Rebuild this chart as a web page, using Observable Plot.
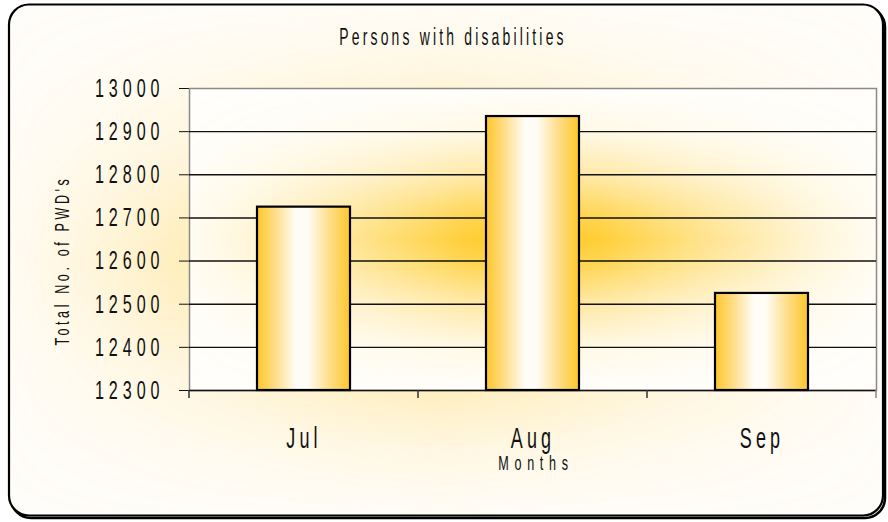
<!DOCTYPE html>
<html>
<head>
<meta charset="utf-8">
<script src="https://cdn.jsdelivr.net/npm/d3@7"></script>
<script src="https://cdn.jsdelivr.net/npm/@observablehq/plot@0.6"></script>
<style>
  html, body { margin: 0; padding: 0; background: #fff; }
  #chart { width: 888px; height: 522px; overflow: hidden; }
</style>
</head>
<body>
<div id="chart"></div>
<script>
// ---- data ----
const titleText = "Persons with disabilities";
const months = ["Jul", "Aug", "Sep"];
const values = [12725, 12935, 12525];
const yTicks = [12300, 12400, 12500, 12600, 12700, 12800, 12900, 13000];
const xLabel = "Months";
const yLabel = "Total No. of PWD's";

const data = months.map((m, i) => ({month: m, value: values[i]}));

const W = 888, H = 522;
const mL = 189, mR = 12, mT = 88, mB = 132;
const font = '"Liberation Sans", Arial, sans-serif';

const plot = Plot.plot({
  width: W,
  height: H,
  marginLeft: mL,
  marginRight: mR,
  marginTop: mT,
  marginBottom: mB,
  style: {background: "transparent", fontFamily: font, color: "#111"},
  x: {
    domain: months,
    paddingInner: 0.595,
    paddingOuter: 0.2975,
    tickSize: 0,
    tickPadding: 36,
    label: null
  },
  y: {
    domain: [yTicks[0], yTicks[yTicks.length - 1]],
    ticks: yTicks,
    tickFormat: d => String(d),
    tickSize: 10,
    tickPadding: 15,
    label: null,
    line: true
  },
  marks: [
    Plot.frame({fill: "url(#plotGrad)", stroke: "#8a8a8a", strokeWidth: 1.5}),
    Plot.ruleY(yTicks.slice(0, -1), {stroke: "#111", strokeWidth: 1.4}),
    Plot.barY(data, {x: "month", y1: () => yTicks[0], y2: "value", fill: "url(#barGrad)", stroke: "#000", strokeWidth: 2.2}),
    Plot.text([titleText], {frameAnchor: "top", dx: -80, dy: -51, lineAnchor: "middle", text: d => d, fill: "#111"}),
    Plot.text([xLabel], {frameAnchor: "bottom", dy: 73, dx: 3, lineAnchor: "middle", text: d => d, fill: "#111"}),
    Plot.text([yLabel], {frameAnchor: "left", dx: -127, dy: 21, rotate: -90, lineAnchor: "middle", textAnchor: "middle", text: d => d, fill: "#111"})
  ]
});

document.getElementById("chart").appendChild(plot);

// ---- decorations (gradients, chart-area box, category boundary ticks) ----
const svg = d3.select(plot);
const defs = svg.insert("defs", ":first-child");

// horizontal colour gradient + vertical mask -> star-shaped "from centre" glow
function glow(id, hStops, vStops) {
  const lg = defs.append("linearGradient").attr("id", id + "H")
    .attr("x1", 0).attr("x2", 1).attr("y1", 0).attr("y2", 0);
  hStops.forEach(([o, a]) =>
    lg.append("stop").attr("offset", o).attr("stop-color", "#ffc81f").attr("stop-opacity", a));
  const vg = defs.append("linearGradient").attr("id", id + "V")
    .attr("x1", 0).attr("x2", 0).attr("y1", 0).attr("y2", 1);
  vStops.forEach(([o, a]) => {
    const c = d3.rgb(255 * a, 255 * a, 255 * a).formatHex();
    vg.append("stop").attr("offset", o).attr("stop-color", c);
  });
  const mask = defs.append("mask").attr("id", id + "M").attr("maskContentUnits", "objectBoundingBox");
  mask.append("rect").attr("width", 1).attr("height", 1).attr("fill", `url(#${id}V)`);
}
const sym = s => s.concat(s.slice(0, -1).reverse().map(([o, a]) => [1 - o, a]));
glow("pg", sym([[0, 0.04], [0.1, 0.18], [0.25, 0.5], [0.4, 0.88], [0.5, 1]]),
           sym([[0, 0], [0.14, 0.1], [0.3, 0.45], [0.42, 0.85], [0.5, 1]]));
glow("cg", sym([[0, 0.05], [0.12, 0.25], [0.25, 0.5], [0.4, 0.85], [0.5, 1]]),
           sym([[0, 0.02], [0.12, 0.15], [0.28, 0.45], [0.42, 0.85], [0.5, 1]]));

// bar gradient
const bg = defs.append("linearGradient").attr("id", "barGrad").attr("x1", 0).attr("x2", 1).attr("y1", 0).attr("y2", 0);
[[0, "#fdc72a"], [0.18, "#fedb80"], [0.42, "#fffdf8"], [0.55, "#fffcf4"], [0.8, "#fedb80"], [1, "#fdc72a"]].forEach(([o, c]) =>
  bg.append("stop").attr("offset", o).attr("stop-color", c));

// plot area fill
const pg = defs.append("pattern").attr("id", "plotGrad").attr("patternUnits", "objectBoundingBox")
  .attr("patternContentUnits", "objectBoundingBox").attr("width", 1).attr("height", 1);
pg.append("rect").attr("width", 1).attr("height", 1).attr("fill", "#fffefb");
pg.append("rect").attr("width", 1).attr("height", 1).attr("fill", "url(#pgH)").attr("mask", "url(#pgM)");

// chart area fill
const cg = defs.append("pattern").attr("id", "chartFill").attr("patternUnits", "objectBoundingBox")
  .attr("patternContentUnits", "objectBoundingBox").attr("width", 1).attr("height", 1);
cg.append("rect").attr("width", 1).attr("height", 1).attr("fill", "#fffdfa");
cg.append("rect").attr("width", 1).attr("height", 1).attr("fill", "url(#cgH)").attr("mask", "url(#cgM)").attr("opacity", 0.7);

// chart-area box (inserted behind the plot)
const bgG = svg.insert("g", "defs + *");
const bx = 9, by = 4.5, bw = 874, bh = 511, r = 20;
bgG.append("rect").attr("x", bx + 2).attr("y", by + 2.5).attr("width", bw).attr("height", bh).attr("rx", r)
  .attr("fill", "none").attr("stroke", "#000").attr("stroke-width", 2.5);
bgG.append("rect").attr("x", bx).attr("y", by).attr("width", bw).attr("height", bh).attr("rx", r)
  .attr("fill", "url(#chartFill)").attr("stroke", "#000").attr("stroke-width", 2.2);

// category boundary ticks below the x axis
const step = (W - mL - mR) / months.length;
const tg = svg.append("g");
d3.range(months.length + 1).forEach(i => {
  const x = mL + i * step;
  tg.append("line").attr("x1", x).attr("x2", x).attr("y1", H - mB).attr("y2", H - mB + 8)
    .attr("stroke", i === months.length ? "#8a8a8a" : "#333").attr("stroke-width", 1.5);
});

// text styling: condensed, letter-spaced look
svg.selectAll("text").each(function () {
  const t = d3.select(this);
  const s = t.text();
  let fs = null, ls = 0, sx = 1;
  if (months.includes(s)) { fs = 30; ls = 7; sx = 0.6; }
  else if (/^\d+$/.test(s)) { fs = 26; ls = 8; sx = 0.62; }
  else if (s === xLabel) { fs = 21; ls = 9.5; sx = 0.6; }
  else if (s === yLabel) { fs = 21; ls = 6; sx = 0.6; }
  else if (s === titleText) { fs = 24; ls = 5.5; sx = 0.58; }
  if (fs == null) return;
  t.style("font-size", fs + "px").style("letter-spacing", ls + "px").attr("fill", "#111");
  const x = +(t.attr("x") || 0);
  t.attr("x", x / sx);
  const tr = t.attr("transform") || "";
  t.attr("transform", (tr + ` scale(${sx},1)`).trim());
});
</script>
</body>
</html>
